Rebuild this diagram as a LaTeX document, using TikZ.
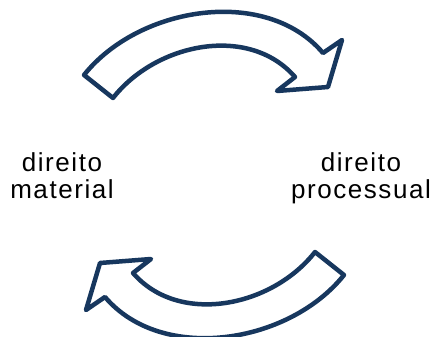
\documentclass[tikz,border=0pt]{standalone}
\usepackage{fontspec}
\newfontfamily\labelfont{Liberation Sans}[LetterSpace=6]
\definecolor{navy1}{RGB}{23, 55, 94}
\usepackage{tikz}
\usetikzlibrary{positioning}

\tikzset{
  turnarrow/.style={draw=navy1, line width=4.5pt, fill=white, line join=round},
  cyclearrow/.pic={
    \draw[turnarrow] (84,75) .. controls (139,6) and (266,-14) .. (323,53)
      -- (342,40) -- (328,87) -- (277,91) -- (295,77)
      .. controls (249,24) and (156,43) .. (113,98) -- cycle;
  }
}

\begin{document}
\begin{tikzpicture}[x=1pt, y=-1pt]
  \useasboundingbox (0,0) rectangle (432,337);

  % upper and lower arrows
  \pic (upper) at (0,0) {cyclearrow};
  \pic[rotate=180] (lower) at (428,350) {cyclearrow};

  % labels
  \node[align=center, inner sep=0pt, anchor=base, font=\labelfont\fontsize{26}{28}\selectfont] (material) at (62,199) {direito\\material};
  \node[align=center, inner sep=0pt, anchor=base, font=\labelfont\fontsize{26}{28}\selectfont] (processual) at (361,199) {direito\\processual};
\end{tikzpicture}
\end{document}
